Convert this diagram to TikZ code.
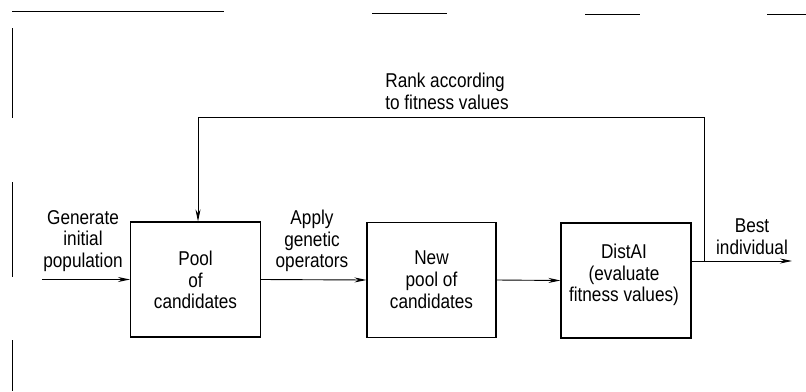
\documentclass[tikz,border=0pt]{standalone}
\usepackage{fontspec}
\setmainfont[FakeStretch=0.86]{Liberation Sans}
\usetikzlibrary{arrows.meta}
\begin{document}
\begin{tikzpicture}[x=1pt,y=-1pt,
  box/.style={draw,line width=1.1pt,minimum width=130pt,minimum height=115pt,inner sep=0pt},
  lbl/.style={align=center,inner sep=0pt,font=\fontsize{20}{21.8}\selectfont},
  arr/.style={line width=0.9pt,-{Stealth[length=12pt,width=5pt]}},
  ln/.style={line width=0.9pt},
  frame/.style={line width=1pt}]
\useasboundingbox (0,0) rectangle (806,391);
% frame remnants
\draw[frame] (12,11) -- (224,11);
\draw[frame] (372,13) -- (447,13);
\draw[frame] (585,14) -- (640,14);
\draw[frame] (767,14) -- (806,14);
\draw[frame] (12,28) -- (12,118);
\draw[frame] (12,182) -- (12,277);
\draw[frame] (12,340) -- (12,391);
% boxes
\node[box] (pool) at (195.5,279.5) {};
\node[box,minimum width=129pt] (new) at (431.5,280) {};
\node[box] (dist) at (626,280.5) {};
% texts
\node[lbl] (poolt) at (195.5,280) {Pool\\of\\candidates};
\node[lbl] (newt) at (431.5,280) {New\\pool of\\candidates};
\node[lbl] (distt) at (624,275) {DistAI\\(evaluate\\fitness values)};
\node[lbl] (gen) at (83,241) {Generate\\initial\\population};
\node[lbl] (apply) at (312,241) {Apply\\genetic\\operators};
\node[lbl] (best) at (752,237) {Best\\individual};
\node[lbl,align=left] (rank) at (447,91) {Rank according\\to fitness values};
% connectors
\coordinate (in) at (42,279.5);
\coordinate (out) at (792,261);
\coordinate (fb) at (704,261);
\coordinate (tr) at (704,117);
\draw[arr] (in) -- (pool.west);
\draw[arr] (pool.east) -- (new.west);
\draw[arr] (new.east) -- (dist.west);
\draw[arr] (dist.east |- out) -- (out);
\draw[arr] (fb) -- (tr) -| ([xshift=2.5pt]pool.north);
\end{tikzpicture}
\end{document}
